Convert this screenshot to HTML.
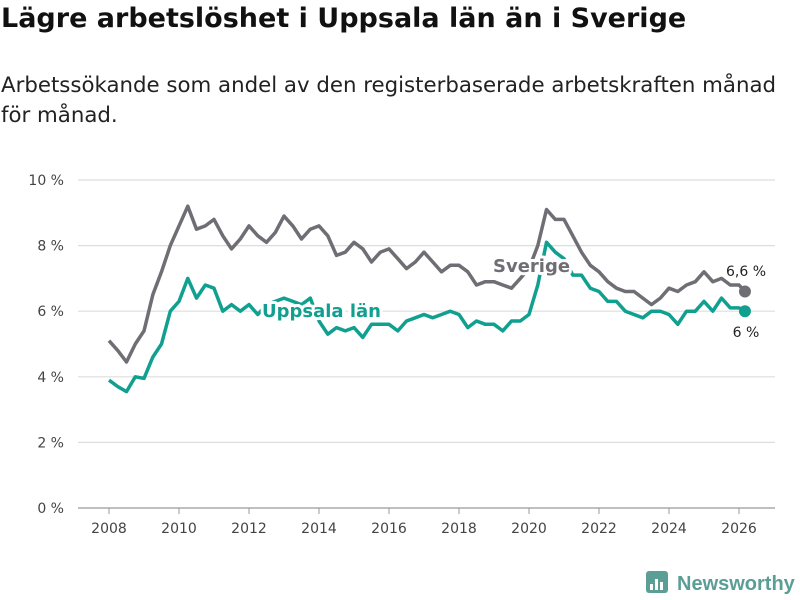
<!DOCTYPE html>
<html><head><meta charset="utf-8"><style>
body{margin:0;width:800px;height:600px;background:#fff;font-family:"DejaVu Sans","Liberation Sans",sans-serif;overflow:hidden;position:relative}
h1{position:absolute;left:1px;top:3px;margin:0;font-size:27px;font-weight:bold;color:#111;white-space:nowrap}
p{position:absolute;left:1px;top:71px;margin:0;font-size:21.3px;line-height:30px;color:#222;width:800px;white-space:nowrap}
svg{position:absolute;left:0;top:0}
</style></head><body>
<h1>Lägre arbetslöshet i Uppsala län än i Sverige</h1>
<p>Arbetssökande som andel av den registerbaserade arbetskraften månad<br>för månad.</p>
<svg id="c" width="800" height="600"></svg>
<script>
const startYear = 2008;
const stepYears = 0.25;
const sverige = [5.1,4.8,4.45,5.0,5.4,6.5,7.2,8.0,8.6,9.2,8.5,8.6,8.8,8.3,7.9,8.2,8.6,8.3,8.1,8.4,8.9,8.6,8.2,8.5,8.6,8.3,7.7,7.8,8.1,7.9,7.5,7.8,7.9,7.6,7.3,7.5,7.8,7.5,7.2,7.4,7.4,7.2,6.8,6.9,6.9,6.8,6.7,7.0,7.3,8.0,9.1,8.8,8.8,8.3,7.8,7.4,7.2,6.9,6.7,6.6,6.6,6.4,6.2,6.4,6.7,6.6,6.8,6.9,7.2,6.9,7.0,6.8,6.8];
const uppsala = [3.9,3.7,3.55,4.0,3.95,4.6,5.0,6.0,6.3,7.0,6.4,6.8,6.7,6.0,6.2,6.0,6.2,5.9,6.2,6.3,6.4,6.3,6.2,6.4,5.7,5.3,5.5,5.4,5.5,5.2,5.6,5.6,5.6,5.4,5.7,5.8,5.9,5.8,5.9,6.0,5.9,5.5,5.7,5.6,5.6,5.4,5.7,5.7,5.9,6.8,8.1,7.8,7.6,7.1,7.1,6.7,6.6,6.3,6.3,6.0,5.9,5.8,6.0,6.0,5.9,5.6,6.0,6.0,6.3,6.0,6.4,6.1,6.1];
const lastYear = 2026.17;
const lastValues = [6.6, 6.0];
const lastLabels = ["6,6 %","6 %"];
const yTicks = [0,2,4,6,8,10];
const yTickLabels = ["0 %","2 %","4 %","6 %","8 %","10 %"];
const xTicks = [2008,2010,2012,2014,2016,2018,2020,2022,2024,2026];

const NS="http://www.w3.org/2000/svg", svg=document.getElementById('c');
const X=t=>109+(t-2008)*35, Y=v=>508-v*32.8;
function mk(tag,attrs,parent){const e=document.createElementNS(NS,tag);for(const k in attrs)e.setAttribute(k,attrs[k]);(parent||svg).appendChild(e);return e;}
yTicks.forEach((v,i)=>{
  const g=mk('line',{x1:78,x2:775,y1:Y(v),y2:Y(v),stroke:v===0?'#999':'#ddd','stroke-width':1.2});
  
  
  const t=mk('text',{x:64,y:Y(v)+5,'text-anchor':'end','font-size':14,fill:'#444'});
  t.textContent=yTickLabels[i];
  
  
});
xTicks.forEach(yr=>{
  const l=mk('line',{x1:X(yr),x2:X(yr),y1:508,y2:514,stroke:'#999'});
  
  
  const t=mk('text',{x:X(yr),y:533,'text-anchor':'middle','font-size':14,fill:'#444'});
  t.textContent=yr;
  
  
});
function line(vals,color,name,li){
  let d=vals.map((v,i)=>(i?'L':'M')+X(startYear+i*stepYears).toFixed(1)+','+Y(v).toFixed(1)).join('');
  d+='L'+X(lastYear)+','+Y(lastValues[li]);
  const p=mk('path',{d:d,fill:'none',stroke:color,'stroke-width':3.5,'stroke-linejoin':'round'});
  
  
  const c=mk('circle',{cx:X(lastYear),cy:Y(lastValues[li]),r:6,fill:color});
  
  
}
line(sverige,'#6e6e74','sverige',0);
line(uppsala,'#11a090','uppsala',1);
function lab(x,y,txt,color,size,w,name,anchor){
  const t=mk('text',{x:x,y:y,'font-size':size,'font-weight':w,fill:color,stroke:'#fff','stroke-width':6,'paint-order':'stroke','stroke-linejoin':'round','text-anchor':anchor||'start'});
  t.textContent=txt;
  
  
}
lab(262,317,'Uppsala län','#11a090',18,'bold','uppsala-series-label');
lab(493,272,'Sverige','#6e6e74',18,'bold','sverige-series-label');
lab(746,276,lastLabels[0],'#222',14,'normal','sverige-end-label','middle');
lab(746,337,lastLabels[1],'#222',14,'normal','uppsala-end-label','middle');
const g=mk('g',{});


mk('rect',{x:646,y:571,width:22,height:22,rx:3,fill:'#5a9e96'},g);
[[650,584,3,6],[655,579,3,11],[660,582,3,8]].forEach(b=>mk('rect',{x:b[0],y:b[1],width:b[2],height:b[3],fill:'#fff'},g));
const lt=mk('text',{x:677,y:590,'font-size':20,'font-weight':'bold',fill:'#5a9e96','font-family':'Liberation Sans, sans-serif'},g);
lt.textContent='Newsworthy';
</script>
</body></html>
